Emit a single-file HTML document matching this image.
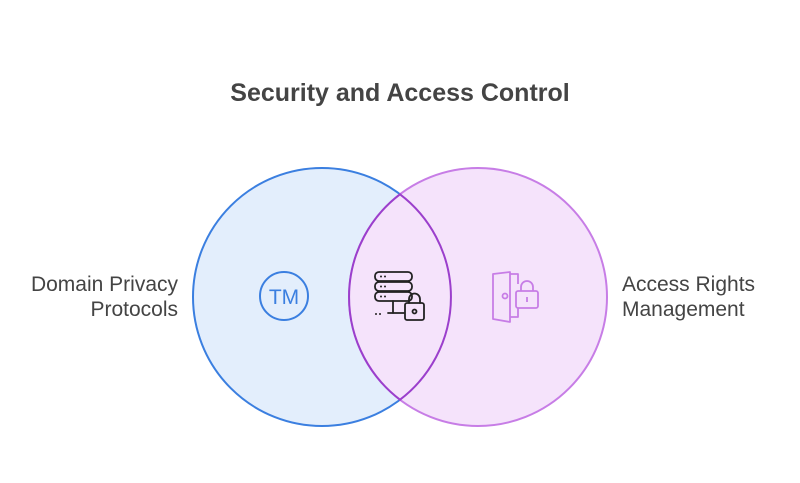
<!DOCTYPE html>
<html><head><style>
body{margin:0;background:#fff;width:800px;height:478px;overflow:hidden;font-family:"Liberation Sans",sans-serif}
</style></head><body>
<svg width="800" height="478" viewBox="0 0 800 478" xmlns="http://www.w3.org/2000/svg">
<text x="400" y="101" text-anchor="middle" font-family="Liberation Sans, sans-serif" font-weight="bold" font-size="25" fill="#444">Security and Access Control</text>
<circle cx="322" cy="297" r="129" fill="#e3eefc" stroke="#3b7fe0" stroke-width="2"/>
<circle cx="478" cy="297" r="129" fill="#f5e3fb" stroke="#c77de6" stroke-width="2"/>
<path d="M400 194.3 A129 129 0 0 0 400 399.7 A129 129 0 0 0 400 194.3 Z" fill="#f5e3fb" stroke="#9b3fcc" stroke-width="2"/>
<circle cx="284" cy="296" r="24" fill="none" stroke="#3b7fe0" stroke-width="2"/>
<text x="284" y="304" text-anchor="middle" font-size="21" fill="#3b7fe0" font-family="Liberation Sans, sans-serif">TM</text>
<g fill="none" stroke="#222" stroke-width="1.8" stroke-linecap="round">
<rect x="375" y="272" width="37" height="9" rx="4"/>
<rect x="375" y="282" width="37" height="9" rx="4"/>
<rect x="375" y="292" width="37" height="9" rx="4"/>
<line x1="393" y1="301" x2="393" y2="313"/>
<line x1="388" y1="313" x2="404" y2="313"/>
<rect x="405" y="303" width="19" height="17" rx="2"/>
<path d="M409 303 v-4 a5.5 5.5 0 0 1 11 0 v4"/>
<circle cx="414.5" cy="311.5" r="2"/>
</g>
<g fill="#222"><circle cx="381" cy="276.5" r="1"/><circle cx="385" cy="276.5" r="1"/><circle cx="381" cy="286.5" r="1"/><circle cx="385" cy="286.5" r="1"/><circle cx="381" cy="296.5" r="1"/><circle cx="385" cy="296.5" r="1"/><circle cx="376" cy="314" r="1"/><circle cx="380" cy="314" r="1"/></g>
<g fill="none" stroke="#c77de6" stroke-width="1.8" stroke-linejoin="round">
<path d="M493 274 L510 272 L510 322 L493 319 Z"/>
<path d="M510 274 h8 v10"/>
<path d="M518 308 v9 h-8"/>
<circle cx="505" cy="296" r="2.5"/>
<rect x="516" y="291" width="22" height="17" rx="2"/>
<path d="M521 291 v-4 a6 6 0 0 1 12 0 v4"/>
<line x1="527" y1="297" x2="527" y2="302"/>
</g>
<g font-family="Liberation Sans, sans-serif" font-size="21" fill="#444">
<text x="178" y="291" text-anchor="end">Domain Privacy</text>
<text x="178" y="316" text-anchor="end">Protocols</text>
<text x="622" y="291">Access Rights</text>
<text x="622" y="316">Management</text>
</g>
</svg>
</body></html>
